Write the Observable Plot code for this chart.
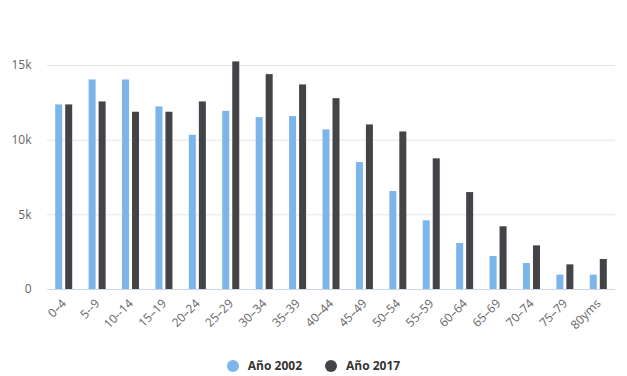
<!DOCTYPE html>
<html><head><meta charset="utf-8">
<script src="https://cdn.jsdelivr.net/npm/d3@7"></script>
<script src="https://cdn.jsdelivr.net/npm/@observablehq/plot@0.6"></script>
<style>
body{margin:0;background:#fff;font-family:"Open Sans",sans-serif;}
#legend{display:flex;justify-content:center;gap:23px;font-weight:bold;font-size:12px;color:#333;margin-top:12px;}
#legend span{display:flex;align-items:center;gap:9px;}
#legend i{display:inline-block;width:12px;height:12px;border-radius:50%;}
</style></head>
<body>
<div id="chart"></div>
<div id="legend"></div>
<script>
const categories = ["0–4","5--9","10--14","15–19","20–24","25–29","30–34","35–39","40–44","45–49","50–54","55–59","60–64","65–69","70–74","75–79","80yms"];
const series = ["Año 2002","Año 2017"];
const values2002 = [12360,14030,14030,12230,10330,11930,11510,11580,10690,8500,6560,4600,3080,2210,1740,960,960];
const values2017 = [12360,12560,11870,11870,12560,15240,14390,13700,12780,11020,10550,8750,6490,4200,2920,1650,2010];
const colors = ["#7cb5ec","#434348"];
const yTicks = [0,5000,10000,15000];

const data = [];
categories.forEach((c,i)=>{
  data.push({cat:c, series:series[0], value:values2002[i]});
  data.push({cat:c, series:series[1], value:values2017[i]});
});

const chart = Plot.plot({
  width:627, height:345,
  marginLeft:47, marginRight:12, marginTop:65, marginBottom:56,
  style:{fontFamily:"Open Sans, sans-serif", fontSize:"12px", color:"#666"},
  fx:{domain:categories, padding:0, round:false, label:null},
  x:{domain:series, axis:null, paddingInner:0.3, paddingOuter:0.82, round:false},
  y:{domain:[0,15000], label:null},
  color:{domain:series, range:colors},
  marks:[
    Plot.gridY(yTicks, {stroke:"#e6e6e6", strokeOpacity:1}),
    Plot.axisY(yTicks, {tickSize:0, tickPadding:16, tickFormat:d=>d===0?"0":(d/1000)+"k", fill:"#666", fontSize:12, label:null}),
    Plot.barY(data, {fx:"cat", x:"series", y:"value", fill:"series"}),
    Plot.ruleY([0], {stroke:"#ccd6eb"}),
    Plot.axisFx({anchor:"bottom", tickRotate:-45, tickSize:0, tickPadding:12, fill:"#666", fontSize:12, label:null})
  ]
});
document.getElementById("chart").appendChild(chart);

const lg = document.getElementById("legend");
series.forEach((s,i)=>{
  const sp = document.createElement("span");
  const dot = document.createElement("i");
  dot.style.background = colors[i];
  sp.appendChild(dot);
  sp.appendChild(document.createTextNode(s));
  lg.appendChild(sp);
});
</script>
</body></html>
